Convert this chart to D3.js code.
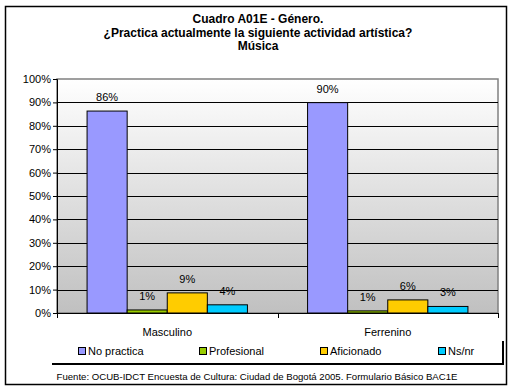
<!DOCTYPE html>
<html lang="es">
  <head>
    <meta charset="UTF-8" />
    <title>Cuadro A01E - Género</title>
    <script src="https://d3js.org/d3.v7.min.js"></script>
    <style>
      body { margin: 0; background: #fff; }
      text { font-family: "Liberation Sans", Arial, sans-serif; }
    </style>
  </head>
  <body>
    <div id="chart"></div>
    <script>
      // Data
      const categories = ["Masculino", "Ferrenino"];
      const seriesNames = ["No practica", "Profesional", "Aficionado", "Ns/nr"];
      const masculino = [86.3, 1.3, 8.6, 3.5];
      const femenino = [89.9, 0.9, 5.6, 2.8];
      const labels = [["86%", "1%", "9%", "4%"], ["90%", "1%", "6%", "3%"]];
      const yTicks = [0, 10, 20, 30, 40, 50, 60, 70, 80, 90, 100];
      const titleLines = [
        "Cuadro A01E - Género.",
        "¿Practica actualmente la siguiente actividad artística?",
        "Música",
      ];
      const source =
        "Fuente: OCUB-IDCT Encuesta de Cultura: Ciudad de Bogotá 2005. Formulario Básico BAC1E";

      const colors = ["#9999ff", "#99cc00", "#ffcc00", "#00ccff"];
      const values = [masculino, femenino];

      const width = 515;
      const height = 391;
      const plot = { left: 57, right: 498, top: 79, bottom: 313 };

      const svg = d3
        .select("#chart")
        .append("svg")
        .attr("width", width)
        .attr("height", height);

      // outer frame
      svg
        .append("rect")
        .attr("x", 5.5)
        .attr("y", 6.5)
        .attr("width", 501)
        .attr("height", 378)
        .attr("fill", "#fff")
        .attr("stroke", "#000")
        .attr("stroke-width", 1.5);

      // title
      svg
        .append("g")
        .selectAll("text")
        .data(titleLines)
        .join("text")
        .attr("x", 258)
        .attr("y", (d, i) => 23 + i * 13.5)
        .attr("text-anchor", "middle")
        .attr("font-size", 12)
        .attr("font-weight", "bold")
        .text((d) => d);

      const x0 = d3
        .scaleBand()
        .domain(categories)
        .range([plot.left, plot.right]);
      // Excel gap width 150%: 0.75 bar on each side of the group
      const x1 = d3
        .scaleBand()
        .domain(seriesNames)
        .range([0, x0.bandwidth()])
        .paddingOuter(0.75)
        .paddingInner(0);
      const y = d3.scaleLinear().domain([0, 100]).range([plot.bottom, plot.top]);

      // plot background gradient
      const defs = svg.append("defs");
      const grad = defs
        .append("linearGradient")
        .attr("id", "bg")
        .attr("x1", "0%")
        .attr("y1", "0%")
        .attr("x2", "0%")
        .attr("y2", "100%");
      grad.append("stop").attr("offset", "0%").attr("stop-color", "#ffffff");
      grad.append("stop").attr("offset", "100%").attr("stop-color", "#c0c0c0");

      svg
        .append("rect")
        .attr("x", plot.left)
        .attr("y", plot.top)
        .attr("width", plot.right - plot.left)
        .attr("height", plot.bottom - plot.top)
        .attr("fill", "url(#bg)")
        .attr("stroke", "#808080")
        .attr("stroke-width", 1.5);

      // gridlines
      svg
        .append("g")
        .selectAll("line")
        .data(yTicks.filter((d) => d > 0 && d < 100))
        .join("line")
        .attr("x1", plot.left)
        .attr("x2", plot.right)
        .attr("y1", (d) => Math.round(y(d)) + 0.5)
        .attr("y2", (d) => Math.round(y(d)) + 0.5)
        .attr("stroke", "#000");

      // bars
      const groups = svg
        .append("g")
        .selectAll("g")
        .data(categories)
        .join("g")
        .attr("transform", (d) => `translate(${x0(d)},0)`);

      groups
        .selectAll("rect")
        .data((d, i) => values[i].map((v, j) => ({ v, s: seriesNames[j], j })))
        .join("rect")
        .attr("x", (d) => x1(d.s))
        .attr("y", (d) => y(d.v))
        .attr("width", x1.bandwidth())
        .attr("height", (d) => y(0) - y(d.v))
        .attr("fill", (d) => colors[d.j])
        .attr("stroke", "#000")
        .attr("stroke-width", 1);

      groups
        .selectAll("text")
        .data((d, i) =>
          values[i].map((v, j) => ({ v, s: seriesNames[j], t: labels[i][j] }))
        )
        .join("text")
        .attr("x", (d) => x1(d.s) + x1.bandwidth() / 2)
        .attr("y", (d) => y(d.v) - 10)
        .attr("text-anchor", "middle")
        .attr("font-size", 11)
        .text((d) => d.t);

      // y axis
      const yAxis = d3
        .axisLeft(y)
        .tickValues(yTicks)
        .tickSize(4)
        .tickFormat((d) => d + "%");
      const gy = svg
        .append("g")
        .attr("transform", `translate(${plot.left},0)`)
        .call(yAxis);
      gy.select(".domain").attr("stroke", "#000");
      gy.selectAll("text")
        .attr("font-size", 11)
        .attr("fill", "#000")
        .attr("x", -6);

      // x axis
      svg
        .append("line")
        .attr("x1", plot.left)
        .attr("x2", plot.right)
        .attr("y1", plot.bottom + 0.5)
        .attr("y2", plot.bottom + 0.5)
        .attr("stroke", "#000");
      svg
        .append("g")
        .selectAll("line")
        .data([plot.left, x0(categories[1]), plot.right])
        .join("line")
        .attr("x1", (d) => Math.round(d) + 0.5)
        .attr("x2", (d) => Math.round(d) + 0.5)
        .attr("y1", plot.bottom)
        .attr("y2", plot.bottom + 5)
        .attr("stroke", "#000");
      svg
        .append("g")
        .selectAll("text")
        .data(categories)
        .join("text")
        .attr("x", (d) => x0(d) + x0.bandwidth() / 2)
        .attr("y", 336)
        .attr("text-anchor", "middle")
        .attr("font-size", 11)
        .text((d) => d);

      // legend shadow
      svg
        .append("path")
        .attr("d", "M52,364 H503 V341")
        .attr("fill", "none")
        .attr("stroke", "#000")
        .attr("stroke-width", 2);

      const legendX = [78, 199, 320, 438];
      const legend = svg
        .append("g")
        .selectAll("g")
        .data(seriesNames)
        .join("g")
        .attr("transform", (d, i) => `translate(${legendX[i]},347)`);
      legend
        .append("rect")
        .attr("x", 0.5)
        .attr("y", 0.5)
        .attr("width", 7)
        .attr("height", 7)
        .attr("fill", (d, i) => colors[i])
        .attr("stroke", "#000");
      legend
        .append("text")
        .attr("x", 10)
        .attr("y", 8)
        .attr("font-size", 11)
        .text((d) => d);

      // source
      svg
        .append("text")
        .attr("x", 257)
        .attr("y", 380)
        .attr("text-anchor", "middle")
        .attr("font-size", 9.6)
        .text(source);
    </script>
  </body>
</html>
